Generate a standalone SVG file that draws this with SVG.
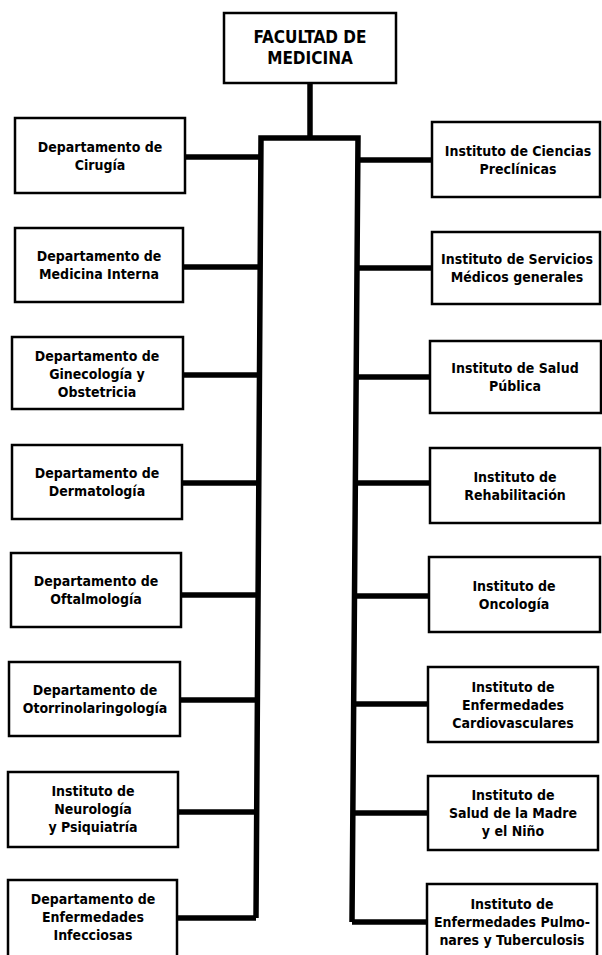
<svg xmlns="http://www.w3.org/2000/svg" width="602" height="955" viewBox="0 0 602 955">
<style>
.box{fill:#fff;stroke:#000;stroke-width:2.5}
.ln{fill:none;stroke:#000;stroke-width:5.5;stroke-linejoin:miter;stroke-linecap:butt}
text{font-family:"DejaVu Sans Condensed","DejaVu Sans",sans-serif;font-weight:bold;font-size:14px;fill:#000;text-anchor:middle;font-stretch:condensed}
.title{font-size:17px}
</style>
<rect width="602" height="955" fill="#fff"/>
<g id="connectors">
<path class="ln" d="M310,83 V138"/>
<path class="ln" d="M256,918 L261,138 H358 L352,922"/>
<path class="ln" d="M185,157 H261"/>
<path class="ln" d="M183,267 H260"/>
<path class="ln" d="M183,375 H259"/>
<path class="ln" d="M182,483 H259"/>
<path class="ln" d="M181,595 H258"/>
<path class="ln" d="M180,700 H257"/>
<path class="ln" d="M178,812 H256"/>
<path class="ln" d="M177,918 H256"/>
<path class="ln" d="M358,160 H432"/>
<path class="ln" d="M357,268 H432"/>
<path class="ln" d="M356,377 H430"/>
<path class="ln" d="M355,483 H430"/>
<path class="ln" d="M354,596 H429"/>
<path class="ln" d="M353,704 H428"/>
<path class="ln" d="M353,813 H428"/>
<path class="ln" d="M352,922 H427"/>
</g>
<g id="facultad">
<rect class="box" x="224" y="13" width="172" height="70"/>
<text class="title" x="310" y="43">FACULTAD DE</text>
<text class="title" x="310" y="64">MEDICINA</text>
</g>
<g id="cirugia">
<rect class="box" x="15" y="118" width="170" height="75"/>
<text x="100" y="152">Departamento de</text>
<text x="100" y="170">Cirugía</text>
</g>
<g id="medicina-interna">
<rect class="box" x="15" y="228" width="168" height="74"/>
<text x="99" y="261">Departamento de</text>
<text x="99" y="279">Medicina Interna</text>
</g>
<g id="ginecologia">
<rect class="box" x="12" y="337" width="171" height="72"/>
<text x="97" y="361">Departamento de</text>
<text x="97" y="379">Ginecología y</text>
<text x="97" y="397">Obstetricia</text>
</g>
<g id="dermatologia">
<rect class="box" x="12" y="445" width="170" height="74"/>
<text x="97" y="478">Departamento de</text>
<text x="97" y="496">Dermatología</text>
</g>
<g id="oftalmologia">
<rect class="box" x="11" y="553" width="170" height="74"/>
<text x="96" y="586">Departamento de</text>
<text x="96" y="604">Oftalmología</text>
</g>
<g id="otorrinolaringologia">
<rect class="box" x="9" y="662" width="171" height="74"/>
<text x="95" y="695">Departamento de</text>
<text x="95" y="713">Otorrinolaringología</text>
</g>
<g id="neurologia">
<rect class="box" x="8" y="772" width="170" height="75"/>
<text x="93" y="796">Instituto de</text>
<text x="93" y="814">Neurología</text>
<text x="93" y="832">y Psiquiatría</text>
</g>
<g id="infecciosas">
<rect class="box" x="8" y="880" width="169" height="78"/>
<text x="93" y="904">Departamento de</text>
<text x="93" y="922">Enfermedades</text>
<text x="93" y="940">Infecciosas</text>
</g>
<g id="ciencias-preclinicas">
<rect class="box" x="432" y="122" width="168" height="75"/>
<text x="518" y="156">Instituto de Ciencias</text>
<text x="518" y="174">Preclínicas</text>
</g>
<g id="servicios-medicos">
<rect class="box" x="432" y="232" width="168" height="72"/>
<text x="517" y="264">Instituto de Servicios</text>
<text x="517" y="282">Médicos generales</text>
</g>
<g id="salud-publica">
<rect class="box" x="430" y="341" width="171" height="72"/>
<text x="515" y="373">Instituto de Salud</text>
<text x="515" y="391">Pública</text>
</g>
<g id="rehabilitacion">
<rect class="box" x="430" y="448" width="170" height="75"/>
<text x="515" y="482">Instituto de</text>
<text x="515" y="500">Rehabilitación</text>
</g>
<g id="oncologia">
<rect class="box" x="429" y="557" width="171" height="75"/>
<text x="514" y="591">Instituto de</text>
<text x="514" y="609">Oncología</text>
</g>
<g id="cardiovasculares">
<rect class="box" x="428" y="667" width="170" height="75"/>
<text x="513" y="692">Instituto de</text>
<text x="513" y="710">Enfermedades</text>
<text x="513" y="728">Cardiovasculares</text>
</g>
<g id="madre-nino">
<rect class="box" x="428" y="776" width="170" height="74"/>
<text x="513" y="800">Instituto de</text>
<text x="513" y="818">Salud de la Madre</text>
<text x="513" y="836">y el Niño</text>
</g>
<g id="pulmonares">
<rect class="box" x="427" y="884" width="170" height="74"/>
<text x="512" y="909">Instituto de</text>
<text x="512" y="927">Enfermedades Pulmo-</text>
<text x="512" y="945">nares y Tuberculosis</text>
</g>
</svg>
